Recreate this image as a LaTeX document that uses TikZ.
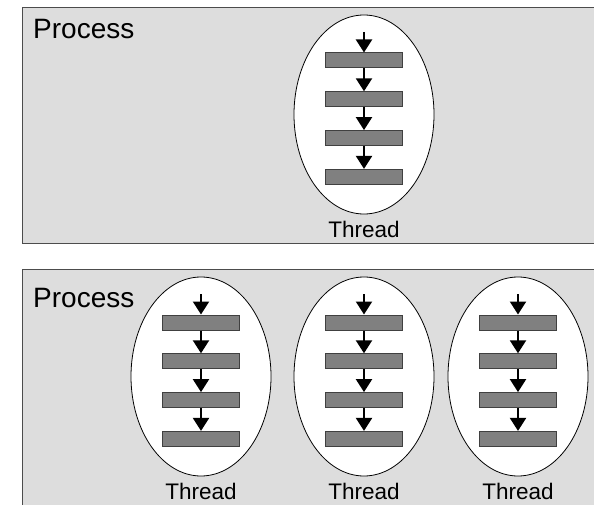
\documentclass[tikz,border=0pt]{standalone}
\usepackage{fontspec}
\setmainfont{Liberation Sans}
\usetikzlibrary{arrows.meta,shapes.geometric}
\tikzset{
 procbox/.style={draw=black!70, line width=1.5pt, fill=black!13.5},
 threadell/.style={ellipse, draw=black, line width=0.8pt, fill=white, minimum width=140pt, minimum height=199pt, inner sep=0pt},
 taskbar/.style={draw=black!75, line width=1pt, fill=black!50, minimum width=77pt, minimum height=15pt, inner sep=0pt},
 flow/.style={line width=2.2pt, -{Triangle[width=16pt,length=13pt]}},
 proclabel/.style={anchor=base west, inner sep=0pt, font=\fontsize{28}{30}\selectfont},
 threadlabel/.style={anchor=base, inner sep=0pt, font=\fontsize{22.5}{24}\selectfont},
}
\newcommand\drawthread[3]{%
 \node[threadell] (#1e) at (#2, #3+99.5) {};
 \foreach \k in {1,...,4} { \node[taskbar] (#1b\k) at (#2, #3+45.5+38.8*\k-38.8) {}; }
 \coordinate (#1s) at (#2, #3+17);
 \draw[flow] (#1s) -- (#1b1.north);
 \draw[flow] (#1b1) -- (#1b2);
 \draw[flow] (#1b2) -- (#1b3);
 \draw[flow] (#1b3) -- (#1b4);
 \node[threadlabel] (#1l) at (#2, #3+222) {Thread};
}
\begin{document}
\begin{tikzpicture}[x=1pt,y=-1pt]
\useasboundingbox (0,0) rectangle (594,505);
\clip (0,0) rectangle (594,505);
\draw[procbox] (22.5,7.5) rectangle (610,243.5);
\node[proclabel] (p1) at (33,39) {Process};
\drawthread{ta}{364}{15}
\draw[procbox] (22.5,269.5) rectangle (610,530);
\node[proclabel] (p2) at (33,307) {Process};
\drawthread{tb}{201}{277}
\drawthread{tc}{364}{277}
\drawthread{td}{518}{277}
\end{tikzpicture}
\end{document}
